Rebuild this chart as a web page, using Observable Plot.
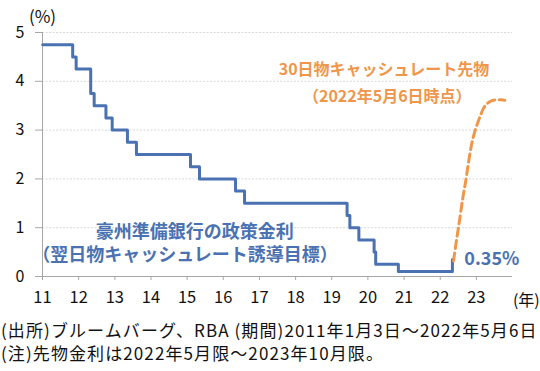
<!DOCTYPE html>
<html><head><meta charset="utf-8">
<script src="https://cdn.jsdelivr.net/npm/d3@7"></script>
<script src="https://cdn.jsdelivr.net/npm/@observablehq/plot@0.6"></script>
<style>
body{margin:0;background:#fff;font-family:"Noto Sans CJK JP","Noto Sans",sans-serif;}
#foot{font-size:17px;line-height:23px;letter-spacing:1.1px;color:#111;padding-left:1px;white-space:nowrap;}
</style></head>
<body>
<div id="chart"></div>
<div id="foot"><div>(出所)ブルームバーグ、RBA (期間)2011年1月3日～2022年5月6日</div><div>(注)先物金利は2022年5月限～2023年10月限。</div></div>
<script>
// RBA cash rate target (change dates and levels)
const rateDates = ["2011-01-03","2011-11-02","2011-12-07","2012-05-02","2012-06-06","2012-10-03","2012-12-05","2013-05-08","2013-08-07","2015-02-04","2015-05-06","2016-05-04","2016-08-03","2019-06-05","2019-07-03","2019-10-02","2020-03-04","2020-03-20","2020-11-04","2022-05-04","2022-05-06"];
const rateValues = [4.75,4.5,4.25,3.75,3.5,3.25,3.0,2.75,2.5,2.25,2.0,1.75,1.5,1.25,1.0,0.75,0.5,0.25,0.1,0.35,0.35];
// 30-day cash rate futures (as of 2022-05-06), contract months
const futMonths = ["2022-05","2022-06","2022-07","2022-08","2022-09","2022-10","2022-11","2022-12","2023-01","2023-02","2023-03","2023-04","2023-05","2023-06","2023-07","2023-08","2023-09","2023-10"];
const futValues = [0.32,0.75,1.15,1.58,1.95,2.35,2.72,2.96,3.15,3.32,3.45,3.53,3.58,3.61,3.62,3.62,3.62,3.61];
const yTicks = [0,1,2,3,4,5];
const xTickYears = [2011,2012,2013,2014,2015,2016,2017,2018,2019,2020,2021,2022,2023];

const blue = "#4a72b2", orange = "#f0964a";
const rate = rateDates.map((d,i)=>({date:new Date(d+"T00:00:00Z"), v:rateValues[i]}));
const fut = futMonths.map((m,i)=>({date:new Date(m+"-15T00:00:00Z"), v:futValues[i]}));
const xTicks = xTickYears.map(y=>new Date(Date.UTC(y,0,1)));
const D = s=>new Date(s+"T00:00:00Z");
const last = rate[rate.length-1];

const chart = Plot.plot({
  width:540, height:318,
  marginTop:32, marginBottom:42, marginLeft:42, marginRight:28,
  style:{fontFamily:'"Noto Sans CJK JP","Noto Sans",sans-serif', fontSize:"15px", color:"#111", background:"#fff"},
  x:{type:"utc", domain:[D("2011-01-01"),D("2024-01-01")]},
  y:{domain:[0,5]},
  marks:[
    Plot.ruleY(yTicks.filter(d=>d>0), {stroke:"#d9d9d9", strokeWidth:1, strokeDasharray:"2,1.5"}),
    Plot.ruleX([D("2011-01-01")], {stroke:"#a6a6a6", strokeWidth:1}),
    Plot.ruleY([0], {stroke:"#a6a6a6", strokeWidth:1}),
    Plot.axisY({ticks:yTicks, tickFormat:d3.format("d"), tickSize:7, tickPadding:11, fontSize:16, stroke:"#a6a6a6", label:null}),
    Plot.axisX({ticks:xTicks, tickFormat:d3.utcFormat("%y"), tickSize:4, tickPadding:11, fontSize:16.5, stroke:"#a6a6a6", label:null}),
    Plot.line(rate, {x:"date", y:"v", curve:"step-after", stroke:blue, strokeWidth:3}),
    Plot.line(fut, {x:"date", y:"v", curve:"monotone-x", stroke:orange, strokeWidth:3, strokeDasharray:"8,4.5"}),
    Plot.text(["豪州準備銀行の政策金利"], {x:D("2015-03-20"), y:0.91, fill:blue, fontSize:18, fontWeight:"bold"}),
    Plot.text(["（翌日物キャッシュレート誘導目標）"], {x:D("2014-12-10"), y:0.43, fill:blue, fontSize:18, fontWeight:"bold"}),
    Plot.text(["30日物キャッシュレート先物"], {x:D("2020-06-12"), y:4.23, fill:orange, fontSize:16, fontWeight:"bold"}),
    Plot.text(["（2022年5月6日時点）"], {x:D("2020-07-15"), y:3.69, fill:orange, fontSize:16, fontWeight:"bold"}),
    Plot.text([last], {x:D("2022-09-01"), y:"v", text:d=>d.v.toFixed(2)+"%", fill:blue, fontSize:18, fontWeight:"bold", textAnchor:"start"}),
    Plot.text(["(%)"], {x:D("2011-01-01"), y:5.3, fontSize:17, clip:false}),
    Plot.text(["(年)"], {x:D("2024-05-20"), y:-0.49, fontSize:16, clip:false})
  ]
});
chart.style.overflow="visible";
document.getElementById("chart").appendChild(chart);
</script>
</body></html>
